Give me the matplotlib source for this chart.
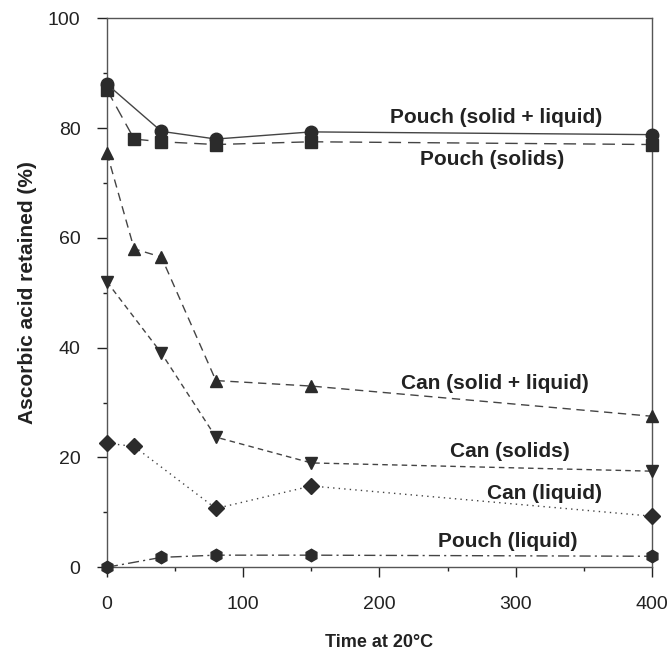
import matplotlib
matplotlib.use("Agg")
import matplotlib.pyplot as plt
from matplotlib.ticker import MultipleLocator

plt.rcParams['font.family'] = ['Liberation Sans', 'DejaVu Sans']

# Data
pouch_sl_x = [0, 40, 80, 150, 400]
pouch_sl_y = [88, 79.4, 78, 79.3, 78.8]
pouch_s_x = [0, 20, 40, 80, 150, 400]
pouch_s_y = [87, 78, 77.5, 77, 77.5, 77]
can_sl_x = [0, 20, 40, 80, 150, 400]
can_sl_y = [75.5, 58, 56.5, 34, 33, 27.5]
can_s_x = [0, 40, 80, 150, 400]
can_s_y = [52, 39, 23.7, 19, 17.5]
can_l_x = [0, 20, 80, 150, 400]
can_l_y = [22.6, 22, 10.7, 14.8, 9.3]
pouch_l_x = [0, 40, 80, 150, 400]
pouch_l_y = [0, 1.8, 2.2, 2.2, 2.0]

labels = ["Pouch (solid + liquid)", "Pouch (solids)", "Can (solid + liquid)",
          "Can (solids)", "Can (liquid)", "Pouch (liquid)"]
label_x = [286, 283, 285, 296, 321, 294]
label_y = [82, 74.2, 33.4, 21, 13.5, 4.7]

fig = plt.figure(figsize=(6.68, 6.52), dpi=100)
ax = fig.add_axes([0.160, 0.130, 0.816, 0.842])
c = '#2b2b2b'
lc = '#444444'

common = dict(color=lc, lw=1.0, mfc=c, mec=c, clip_on=False)
ax.plot(pouch_s_x, pouch_s_y, linestyle=(0, (9, 5)), marker='s', ms=8,
        zorder=3, **common)
ax.plot(pouch_sl_x, pouch_sl_y, linestyle='-', marker='o', ms=9,
        zorder=4, **common)
ax.plot(can_sl_x, can_sl_y, linestyle=(0, (6, 4)), marker='^', ms=9,
        zorder=3, **common)
ax.plot(can_s_x, can_s_y, linestyle=(0, (4, 3)), marker='v', ms=9,
        zorder=3, **common)
ax.plot(can_l_x, can_l_y, linestyle=(0, (1, 3)), marker='D', ms=8,
        zorder=3, **common)
ax.plot(pouch_l_x, pouch_l_y, linestyle=(0, (8, 3, 1.5, 3)), marker='h', ms=9,
        zorder=3, **common)

for t, x, y in zip(labels, label_x, label_y):
    ax.text(x, y, t, ha='center', va='center', fontsize=15, fontweight='bold',
            color='#222222')

ax.set_xlim(0, 400)
ax.set_ylim(0, 100)
ax.xaxis.set_major_locator(MultipleLocator(100))
ax.xaxis.set_minor_locator(MultipleLocator(50))
ax.yaxis.set_major_locator(MultipleLocator(20))
ax.yaxis.set_minor_locator(MultipleLocator(10))
ax.tick_params(which='major', direction='out', length=7, labelsize=14,
               colors='#222222', width=1)
ax.tick_params(which='minor', direction='out', length=3, width=1, colors='#222222')
ax.tick_params(axis='x', pad=14)
ax.tick_params(axis='y', pad=12)
for s in ax.spines.values():
    s.set_color('#555555')
    s.set_linewidth(1.0)

ax.set_xlabel('Time at 20°C', fontsize=13, fontweight='bold', labelpad=15,
              color='#222222')
ax.set_ylabel('Ascorbic acid retained (%)', fontsize=15, fontweight='bold',
              labelpad=8, color='#222222')

fig.savefig('out.png', dpi=100)
